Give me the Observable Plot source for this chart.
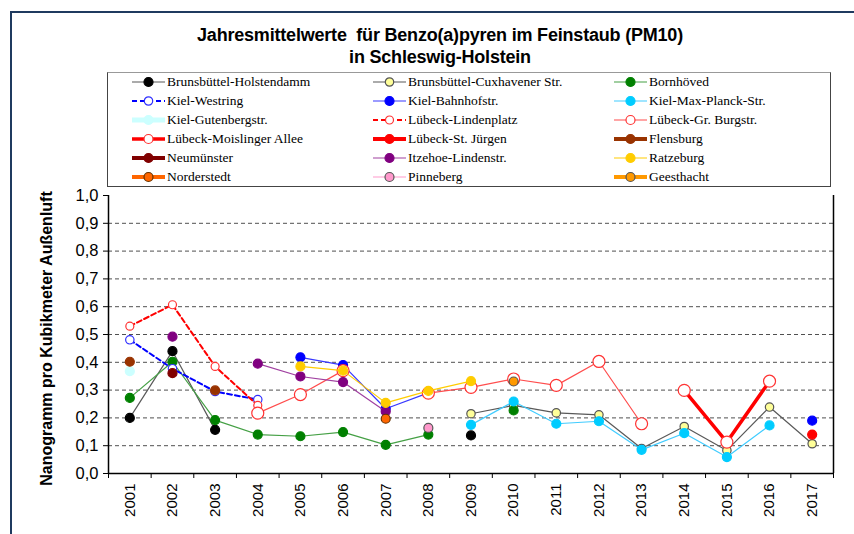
<!DOCTYPE html>
<html>
<head>
<meta charset="utf-8">
<script src="https://cdn.jsdelivr.net/npm/d3@7"></script>
<script src="https://cdn.jsdelivr.net/npm/@observablehq/plot@0.6"></script>
<style>
  html, body { margin: 0; padding: 0; background: #fff; }
  #wrap { position: relative; width: 854px; height: 534px; overflow: hidden; background: #fff; }
  #frame { position: absolute; left: 10px; top: 11px; width: 900px; height: 600px; border-left: 2px solid #1f3a5f; border-top: 2px solid #1f3a5f; }
  #title { position: absolute; left: 13px; top: 24px; width: 854px; text-align: center; font: bold 18px "Liberation Sans", Arial, sans-serif; line-height: 22px; color: #000; letter-spacing: -0.2px; }
  #legend { position: absolute; left: 107px; top: 72px; width: 722px; height: 113px; border: 1px solid #444; border-top-color: #999; background: #fff; }
  .item { position: absolute; height: 16px; display: flex; align-items: center; font: 13.5px "Liberation Serif", "Times New Roman", serif; color: #000; white-space: nowrap; }
  .item svg { margin-right: 2px; }
  #chart { position: absolute; left: 0; top: 186px; }
</style>
</head>
<body>
<div id="wrap">
  <div id="frame"></div>
  <div id="title">Jahresmittelwerte&nbsp; für Benzo(a)pyren im Feinstaub (PM10)<br>in Schleswig-Holstein</div>
  <div id="legend"></div>
  <div id="chart"></div>
</div>
<script>
// ---- data ----
const years = [2001, 2002, 2003, 2004, 2005, 2006, 2007, 2008, 2009, 2010, 2011, 2012, 2013, 2014, 2015, 2016, 2017];
const yTicks = [0, 0.1, 0.2, 0.3, 0.4, 0.5, 0.6, 0.7, 0.8, 0.9, 1.0];
const gridValues = [0.1, 0.2, 0.3, 0.4, 0.5, 0.6, 0.7, 0.8, 0.9];
const yLabel = "Nanogramm pro Kubikmeter Außenluft";

const stationNames = [
  "Brunsbüttel-Holstendamm", "Brunsbüttel-Cuxhavener Str.", "Bornhöved",
  "Kiel-Westring", "Kiel-Bahnhofstr.", "Kiel-Max-Planck-Str.",
  "Kiel-Gutenbergstr.", "Lübeck-Lindenplatz", "Lübeck-Gr. Burgstr.",
  "Lübeck-Moislinger Allee", "Lübeck-St. Jürgen", "Flensburg",
  "Neumünster", "Itzehoe-Lindenstr.", "Ratzeburg",
  "Norderstedt", "Pinneberg", "Geesthacht"
];

//                              2001  2002  2003  2004  2005  2006  2007  2008  2009  2010  2011  2012  2013  2014  2015  2016  2017
const brunsbuettelHolstendamm = [0.20, 0.44, 0.157, null, null, null, null, null, 0.137, null, null, null, null, null, null, null, null];
const brunsbuettelCuxhavener  = [null, null, null, null, null, null, null, null, 0.215, 0.245, 0.218, 0.211, 0.09, 0.169, 0.083, 0.239, 0.107];
const bornhoeved              = [0.272, 0.402, 0.192, 0.140, 0.134, 0.149, 0.103, 0.140, null, 0.227, null, null, null, null, null, null, null];
const kielWestring            = [0.481, 0.377, 0.295, 0.266, null, null, null, null, null, null, null, null, null, null, null, null, null];
const kielBahnhofstr          = [null, null, null, null, 0.418, 0.39, 0.233, 0.29, null, null, null, null, null, null, null, null, 0.19];
const kielMaxPlanck           = [null, null, null, null, null, null, null, null, 0.175, 0.259, 0.179, 0.188, 0.085, 0.145, 0.059, 0.173, null];
const kielGutenberg           = [0.368, null, null, null, null, null, null, null, null, null, null, null, null, null, null, null, null];
const luebeckLindenplatz      = [0.53, 0.607, 0.385, 0.245, null, null, null, null, null, null, null, null, null, null, null, null, null];
const luebeckGrBurgstr        = [null, null, null, 0.217, 0.284, 0.37, null, 0.289, 0.31, 0.34, 0.317, 0.403, 0.179, null, null, null, null];
const luebeckMoislinger       = [null, null, null, null, null, null, null, null, null, null, null, null, null, 0.299, 0.113, 0.332, null];
const luebeckStJuergen        = [null, null, null, null, null, null, null, null, null, null, null, null, null, null, null, null, 0.14];
const flensburg               = [0.402, null, 0.299, null, null, null, null, null, null, null, null, null, null, null, null, null, null];
const neumuenster             = [null, 0.361, null, null, null, null, null, null, null, null, null, null, null, null, null, null, null];
const itzehoe                 = [null, 0.492, null, 0.395, 0.349, 0.329, 0.223, null, null, null, null, null, null, null, null, null, null];
const ratzeburg               = [null, null, null, null, 0.385, 0.37, 0.254, 0.297, 0.332, null, null, null, null, null, null, null, null];
const norderstedt             = [null, null, null, null, null, null, 0.197, null, null, null, null, null, null, null, null, null, null];
const pinneberg               = [null, null, null, null, null, null, null, 0.164, null, null, null, null, null, null, null, null, null];
const geesthacht              = [null, null, null, null, null, null, null, null, null, 0.331, null, null, null, null, null, null, null];

const seriesValues = [
  brunsbuettelHolstendamm, brunsbuettelCuxhavener, bornhoeved,
  kielWestring, kielBahnhofstr, kielMaxPlanck,
  kielGutenberg, luebeckLindenplatz, luebeckGrBurgstr,
  luebeckMoislinger, luebeckStJuergen, flensburg,
  neumuenster, itzehoe, ratzeburg,
  norderstedt, pinneberg, geesthacht
];

// ---- styles (per station, same order) ----
const styles = [
  {line: "#595959", w: 1.2, dash: null, fill: "#000000", stroke: "#000000", r: 4.5},
  {line: "#595959", w: 1.2, dash: null, fill: "#ffff99", stroke: "#555555", r: 4.2},
  {line: "#45a045", w: 1.2, dash: null, fill: "#008000", stroke: "#008000", r: 4.5},
  {line: "#0000ff", w: 2,   dash: "5,3", fill: "#ffffff", stroke: "#3030ff", r: 4.2},
  {line: "#3838ff", w: 1.2, dash: null, fill: "#0000ff", stroke: "#0000ff", r: 4.5},
  {line: "#40ccff", w: 1.2, dash: null, fill: "#00ccff", stroke: "#00ccff", r: 4.5},
  {line: "#ccffff", w: 5,   dash: null, fill: "#ccffff", stroke: "#ccffff", r: 4.5},
  {line: "#ff0000", w: 2,   dash: "5,3", fill: "#ffffff", stroke: "#ff3333", r: 4},
  {line: "#ff4d4d", w: 1.2, dash: null, fill: "#ffffff", stroke: "#ff3333", r: 6},
  {line: "#ff0000", w: 3.5, dash: null, fill: "#ffffff", stroke: "#ff3333", r: 6},
  {line: "#ff0000", w: 4,   dash: null, fill: "#ff0000", stroke: "#ff0000", r: 4.5},
  {line: "#993300", w: 4,   dash: null, fill: "#993300", stroke: "#993300", r: 4.5},
  {line: "#800000", w: 4,   dash: null, fill: "#800000", stroke: "#800000", r: 4.5},
  {line: "#a040a0", w: 1.2, dash: null, fill: "#800080", stroke: "#800080", r: 4.5},
  {line: "#ffcc00", w: 1.2, dash: null, fill: "#ffcc00", stroke: "#ffcc00", r: 4.5},
  {line: "#ff6600", w: 4,   dash: null, fill: "#ff6600", stroke: "#663300", r: 4.5},
  {line: "#ff99cc", w: 1.2, dash: null, fill: "#ff99cc", stroke: "#555555", r: 4.5},
  {line: "#ff9900", w: 4,   dash: null, fill: "#ff9900", stroke: "#555555", r: 4.5}
];

// ---- legend ----
const legend = document.getElementById("legend");
const colX = [24, 265, 506];
stationNames.forEach((name, i) => {
  const s = styles[i];
  const col = i % 3, row = Math.floor(i / 3);
  const div = document.createElement("div");
  div.className = "item";
  div.style.left = colX[col] + "px";
  div.style.top = (1 + row * 19) + "px";
  const lr = Math.min(s.r, 4.5);
  div.innerHTML =
    `<svg width="33" height="14"><line x1="0" x2="33" y1="7" y2="7" stroke="${s.line}" stroke-width="${s.w}" ${s.dash ? `stroke-dasharray="${s.dash}"` : ""}/>` +
    `<circle cx="16.5" cy="7" r="${lr}" fill="${s.fill}" stroke="${s.stroke}" stroke-width="1.2"/></svg>` +
    `<span>${name}</span>`;
  legend.appendChild(div);
});

// ---- chart ----
const boundaries = years.map(y => y - 0.5).concat([years[years.length - 1] + 0.5]);
const marks = [
  Plot.ruleY(gridValues, {stroke: "#505050", strokeDasharray: "4,3", strokeWidth: 1})
];
seriesValues.forEach((vals, i) => {
  const s = styles[i];
  const rows = years.map((yr, j) => ({year: yr, value: vals[j]}));
  marks.push(Plot.line(rows, {x: "year", y: "value", stroke: s.line, strokeWidth: s.w, strokeDasharray: s.dash || undefined}));
  marks.push(Plot.dot(rows.filter(d => d.value != null), {x: "year", y: "value", r: s.r, fill: s.fill, stroke: s.stroke, strokeWidth: 1.2}));
});
marks.push(
  Plot.ruleY([0], {stroke: "#000", strokeWidth: 1.5}),
  Plot.ruleX([boundaries[0]], {stroke: "#000", strokeWidth: 1.5}),
  Plot.ruleX([boundaries[boundaries.length - 1]], {stroke: "#000", strokeWidth: 1.5}),
  Plot.axisY({ticks: yTicks, tickSize: 5, tickPadding: 5, tickFormat: d => d.toFixed(1).replace(".", ","), fontSize: 16.5, label: null}),
  Plot.axisX({ticks: boundaries, tickSize: 5, tickFormat: () => "", label: null}),
  Plot.axisX({ticks: years, tickSize: 0, tickRotate: -90, tickPadding: 10, tickFormat: d => String(d), fontSize: 15, label: null}),
  Plot.text([yLabel], {frameAnchor: "left", textAnchor: "middle", rotate: -90, dx: -62, dy: 4, fontWeight: "bold", fontSize: 16, fill: "#000"})
);

const chart = Plot.plot({
  width: 854,
  height: 348,
  marginTop: 9,
  marginBottom: 61,
  marginLeft: 108,
  marginRight: 21,
  x: {type: "linear", domain: [boundaries[0], boundaries[boundaries.length - 1]]},
  y: {domain: [0, 1]},
  style: {fontFamily: "'Liberation Sans', Arial, sans-serif", fontSize: "14px", color: "#000", background: "transparent", overflow: "visible"},
  marks
});
document.getElementById("chart").appendChild(chart);
</script>
</body>
</html>
